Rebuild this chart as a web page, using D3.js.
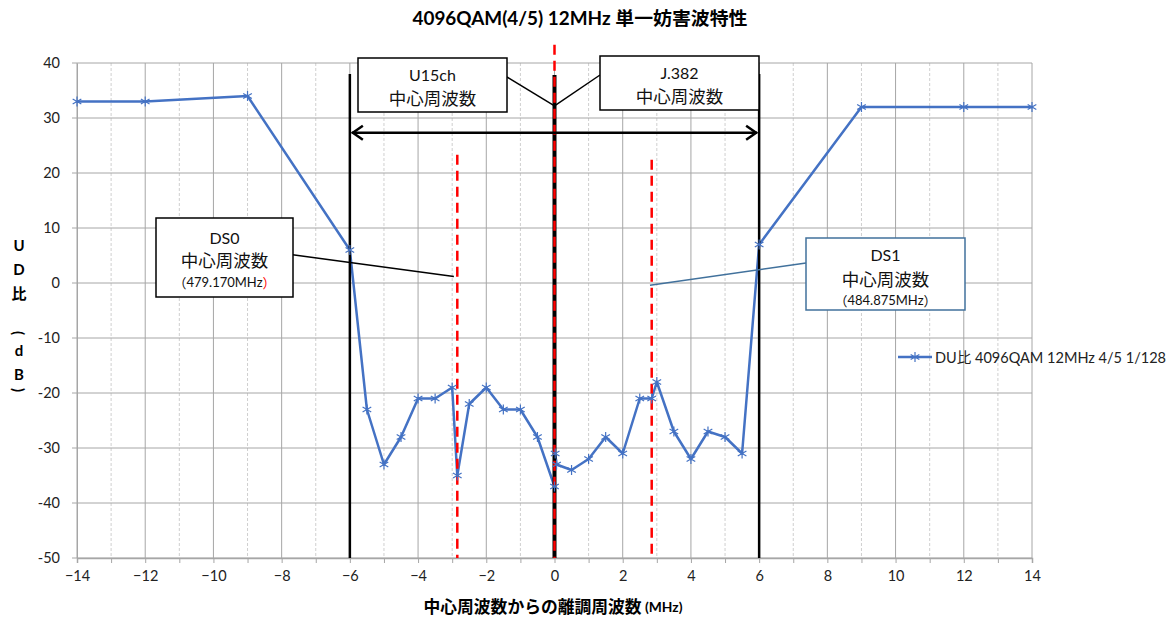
<!DOCTYPE html>
<html>
<head>
<meta charset="utf-8">
<script src="https://cdn.jsdelivr.net/npm/d3@7"></script>
<style>
  html, body { margin: 0; padding: 0; background: #fff; }
  svg { display: block; }
  text { font-family: "Lato", "Noto Sans CJK JP", sans-serif; }
</style>
</head>
<body>
<svg id="chart" width="1174" height="619"></svg>
<script>
// ---- data ----
const chartTitle = "4096QAM(4/5) 12MHz 単一妨害波特性";
const xAxisTitle = "中心周波数からの離調周波数";
const seriesName = "DU比 4096QAM 12MHz 4/5 1/128";
const freqOffsets = [-14, -12, -9, -6, -5.5, -5, -4.5, -4, -3.5, -3, -2.85, -2.5, -2, -1.5, -1, -0.5,
                     0, 0.02, 0.06, 0.5, 1, 1.5, 2, 2.5, 2.85, 3, 3.5, 4, 4.5, 5, 5.5, 6, 9, 12, 14];
const duRatio = [33, 33, 34, 6, -23, -33, -28, -21, -21, -19, -35, -22, -19, -23, -23, -28,
                 -37, -31, -33, -34, -32, -28, -31, -21, -21, -18, -27, -32, -27, -28, -31, 7, 32, 32, 32];
const xTickValues = [-14, -12, -10, -8, -6, -4, -2, 0, 2, 4, 6, 8, 10, 12, 14];
const yTickValues = [40, 30, 20, 10, 0, -10, -20, -30, -40, -50];
// annotation reference lines (data units)
const bandEdges = [-6, 6];
const bandTop = 38;
const centerFreq = 0;
const dsFreqs = [-2.85, 2.85];
const dsTops = [23.3, 22.4];
const arrowLevel = 27.3;

// ---- layout ----
const svg = d3.select("#chart");
const x = d3.scaleLinear().domain([-14, 14]).range([77, 1032]);
const y = d3.scaleLinear().domain([-50, 40]).range([558, 63]);

const gridColor = "#a6a6a6";
const g = svg.append("g");
g.selectAll(".vminor").data(d3.range(-13, 14, 2)).join("line")
  .attr("x1", d => x(d)).attr("x2", d => x(d))
  .attr("y1", y(40)).attr("y2", y(-50))
  .attr("stroke", "#cfcfcf").attr("stroke-width", 1).attr("stroke-dasharray", "3,2");
g.selectAll(".vmajor").data(d3.range(-14, 15, 2)).join("line")
  .attr("x1", d => x(d)).attr("x2", d => x(d))
  .attr("y1", y(40)).attr("y2", y(-50))
  .attr("stroke", gridColor).attr("stroke-width", 1);
g.selectAll(".hmajor").data(yTickValues).join("line")
  .attr("x1", x(-14) - 5).attr("x2", x(14))
  .attr("y1", d => y(d)).attr("y2", d => y(d))
  .attr("stroke", gridColor).attr("stroke-width", 1);

// x axis
const xAxis = d3.axisBottom(x).tickValues(d3.range(-14, 15, 1)).tickSize(5)
  .tickFormat(d => (d % 2 === 0) ? (d < 0 ? "\u2212" + Math.abs(d) : String(d)) : "");
const xg = svg.append("g").attr("transform", `translate(0,${y(-50)})`).call(xAxis);
xg.select(".domain").attr("stroke", gridColor).attr("stroke-width", 1.5);
xg.selectAll(".tick line").attr("stroke", gridColor);
xg.selectAll(".tick text").attr("font-size", 14.5).attr("fill", "#222").attr("dy", "1.0em")
  .attr("font-family", "Lato, sans-serif");

// y axis
const yAxis = d3.axisLeft(y).tickValues(yTickValues).tickSize(0).tickPadding(17)
  .tickFormat(d => String(d));
const yg = svg.append("g").attr("transform", `translate(${x(-14)},0)`).call(yAxis);
yg.select(".domain").attr("stroke", gridColor).attr("stroke-width", 1);
yg.selectAll(".tick text").attr("font-size", 14.5).attr("fill", "#222")
  .attr("font-family", "Lato, sans-serif");

// ---- series ----
const seriesColor = "#4472C4";
const pts = freqOffsets.map((f, i) => [f, duRatio[i]]);
svg.append("path").datum(pts)
  .attr("d", d3.line().x(d => x(d[0])).y(d => y(d[1])))
  .attr("fill", "none").attr("stroke", seriesColor).attr("stroke-width", 2.5)
  .attr("stroke-linejoin", "round");

// ---- reference lines ----
const ann = svg.append("g");
ann.selectAll(".edge").data(bandEdges).join("line")
  .attr("x1", d => x(d)).attr("x2", d => x(d))
  .attr("y1", y(bandTop)).attr("y2", y(-50))
  .attr("stroke", "#000").attr("stroke-width", 2.5);
ann.append("line")
  .attr("x1", x(centerFreq)).attr("x2", x(centerFreq))
  .attr("y1", y(37.8)).attr("y2", y(-50))
  .attr("stroke", "#000").attr("stroke-width", 4);
ann.append("line")
  .attr("x1", x(centerFreq)).attr("x2", x(centerFreq))
  .attr("y1", y(43.3)).attr("y2", y(-50))
  .attr("stroke", "#ff0000").attr("stroke-width", 2.5).attr("stroke-dasharray", "10,6");
ann.selectAll(".ds").data(dsFreqs).join("line")
  .attr("x1", d => x(d)).attr("x2", d => x(d))
  .attr("y1", (d, i) => y(dsTops[i])).attr("y2", y(-50))
  .attr("stroke", "#ff0000").attr("stroke-width", 2.5).attr("stroke-dasharray", "10,6");

// markers on top
svg.append("g").selectAll("path").data(pts).join("path")
  .attr("transform", d => `translate(${x(d[0])},${y(d[1])})`)
  .attr("d", d3.symbol(d3.symbolAsterisk, 70))
  .attr("fill", "none").attr("stroke", seriesColor).attr("stroke-width", 1.2);

// double arrow
const ay = y(arrowLevel);
ann.append("line").attr("x1", x(-6) + 2).attr("x2", x(6) - 2).attr("y1", ay).attr("y2", ay)
  .attr("stroke", "#000").attr("stroke-width", 2.5);
const ah = 11, aw = 7;
ann.append("path").attr("d", `M${x(-6) + 2 + ah},${ay - aw} L${x(-6) + 3},${ay} L${x(-6) + 2 + ah},${ay + aw}`)
  .attr("fill", "none").attr("stroke", "#000").attr("stroke-width", 2.5);
ann.append("path").attr("d", `M${x(6) - 2 - ah},${ay - aw} L${x(6) - 3},${ay} L${x(6) - 2 - ah},${ay + aw}`)
  .attr("fill", "none").attr("stroke", "#000").attr("stroke-width", 2.5);

// ---- callouts ----
const cjk = "'Noto Sans CJK JP', sans-serif";
function callout(box, lineFrom, lineTo, stroke, lines) {
  ann.append("line").attr("x1", lineFrom[0]).attr("y1", lineFrom[1])
    .attr("x2", lineTo[0]).attr("y2", lineTo[1])
    .attr("stroke", stroke).attr("stroke-width", 1.5);
  ann.append("rect").attr("x", box[0]).attr("y", box[1]).attr("width", box[2]).attr("height", box[3])
    .attr("fill", "#fff").attr("stroke", stroke).attr("stroke-width", 1.5);
  const cx = box[0] + box[2] / 2;
  lines.forEach(l => {
    const t = ann.append("text").attr("x", cx).attr("y", l.y).attr("text-anchor", "middle")
      .attr("dominant-baseline", "central").attr("font-size", l.size).attr("fill", "#111");
    l.parts.forEach(p => {
      const s = t.append("tspan").text(p.t).attr("fill", p.c || "#111");
      if (p.f) s.attr("font-family", p.f);
    });
  });
}
callout([358, 58, 149, 54], [507, 77], [x(0), y(32.2)], "#000", [
  { y: 74, size: 16, parts: [{ t: "U15ch" }] },
  { y: 98, size: 17.5, parts: [{ t: "中心周波数" }] }
]);
callout([600, 56, 159, 54], [600, 75], [x(0), y(32.2)], "#000", [
  { y: 72, size: 16, parts: [{ t: "J.382" }] },
  { y: 96, size: 17.5, parts: [{ t: "中心周波数" }] }
]);
callout([156, 218, 137, 79], [287, 254], [x(-2.95), y(1.2)], "#000", [
  { y: 237, size: 16, parts: [{ t: "DS0" }] },
  { y: 260, size: 17.5, parts: [{ t: "中心周波数" }] },
  { y: 282, size: 13, parts: [{ t: "（", f: cjk }, { t: "479.170MHz" }, { t: "）", c: "#ff0000", f: cjk }] }
]);
callout([806, 238, 159, 72], [806, 263], [x(2.8), y(-0.4)], "#41719C", [
  { y: 254, size: 16, parts: [{ t: "DS1" }] },
  { y: 279, size: 17.5, parts: [{ t: "中心周波数" }] },
  { y: 300, size: 13, parts: [{ t: "（", f: cjk }, { t: "484.875MHz" }, { t: "）", f: cjk }] }
]);

// ---- legend ----
const lg = svg.append("g");
lg.append("line").attr("x1", 898).attr("x2", 932).attr("y1", 357).attr("y2", 357)
  .attr("stroke", seriesColor).attr("stroke-width", 2.5);
lg.append("path").attr("transform", "translate(915,357)")
  .attr("d", d3.symbol(d3.symbolAsterisk, 70))
  .attr("fill", "none").attr("stroke", seriesColor).attr("stroke-width", 1.2);
lg.append("text").attr("x", 935).attr("y", 357).attr("dominant-baseline", "central")
  .attr("font-size", 14.5).attr("fill", "#222")
  .attr("textLength", 231).attr("lengthAdjust", "spacingAndGlyphs").text(seriesName);

// ---- titles ----
svg.append("text").attr("x", 580).attr("y", 18).attr("text-anchor", "middle")
  .attr("dominant-baseline", "central").attr("font-size", 18).attr("font-weight", "bold")
  .attr("fill", "#000").attr("textLength", 335).attr("lengthAdjust", "spacingAndGlyphs")
  .text(chartTitle);
const xt = svg.append("text").attr("x", 553).attr("y", 606).attr("text-anchor", "middle")
  .attr("dominant-baseline", "central").attr("font-weight", "bold").attr("fill", "#000")
  .attr("textLength", 259).attr("lengthAdjust", "spacingAndGlyphs");
xt.append("tspan").attr("font-size", 17).text(xAxisTitle);
xt.append("tspan").attr("font-size", 14).text(" (MHz)");

// y-axis title (stacked vertical)
const yTitleChars = [
  { c: "U", y: 245, rot: false }, { c: "D", y: 269, rot: false }, { c: "比", y: 293, rot: false },
  { c: "(", y: 333, rot: true }, { c: "d", y: 350, rot: false }, { c: "B", y: 374, rot: false },
  { c: ")", y: 390, rot: true }
];
yTitleChars.forEach(ch => {
  svg.append("text").attr("x", 0).attr("y", 0)
    .attr("transform", `translate(19,${ch.y})` + (ch.rot ? " rotate(90)" : ""))
    .attr("text-anchor", "middle").attr("dominant-baseline", "central")
    .attr("font-size", 15).attr("font-weight", "bold").attr("fill", "#000").text(ch.c);
});
</script>
</body>
</html>
